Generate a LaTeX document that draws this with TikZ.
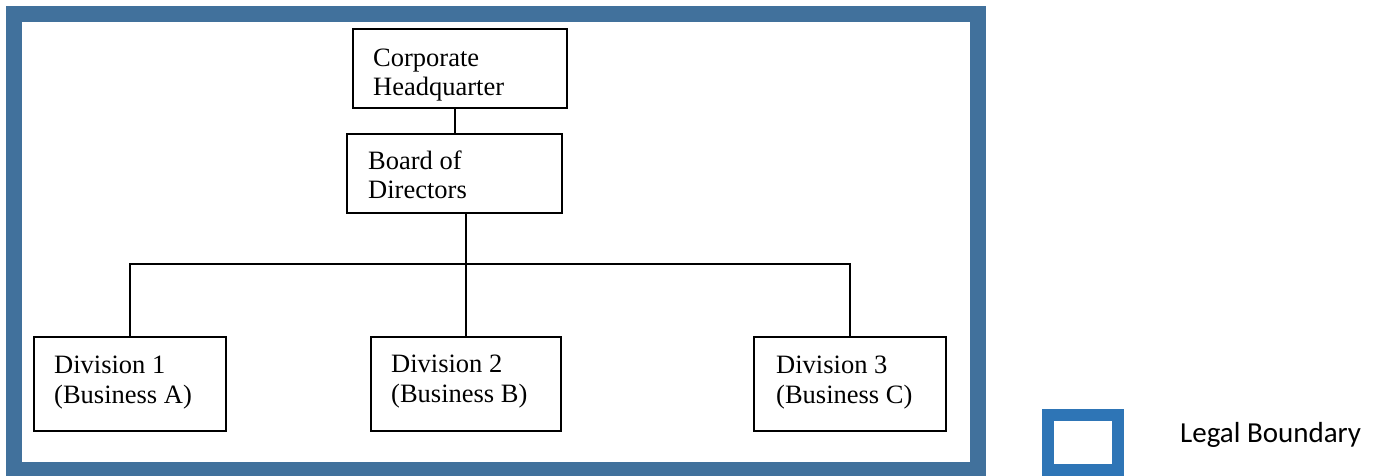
\documentclass[tikz,border=0pt]{standalone}
\usepackage{fontspec}
\setmainfont{Liberation Serif}
\newfontfamily\legendfont{Carlito}
\definecolor{framec}{HTML}{41719C}
\definecolor{legendc}{HTML}{2E75B6}
\begin{document}
\begin{tikzpicture}[x=1pt,y=-1pt,
  box/.style={draw=black,line width=1.8pt,fill=white,inner sep=0pt},
  txt/.style={inner sep=0pt,anchor=base west,font=\fontsize{26.5}{30}\selectfont},
  conn/.style={draw=black,line width=1.8pt}]
\useasboundingbox (0,0) rectangle (1383,475);
\clip (0,0) rectangle (1383,475);
% legal boundary frame
\draw[framec,line width=16pt] (14,14) rectangle (978,470);
% boxes
\node[box,minimum width=214pt,minimum height=79pt] (ch) at (460,68.5) {};
\node[box,minimum width=215pt,minimum height=79pt] (bod) at (454.5,173.5) {};
\node[box,minimum width=192pt,minimum height=94pt] (d1) at (130,384) {};
\node[box,minimum width=190pt,minimum height=94pt] (d2) at (466,384) {};
\node[box,minimum width=192pt,minimum height=94pt] (d3) at (850,384) {};
% texts
\node[txt] (ch1) at (373,66) {Corporate};
\node[txt] (ch2) at (373,95) {Headquarter};
\node[txt] (bod1) at (368,169) {Board of};
\node[txt] (bod2) at (368,198) {Directors};
\node[txt] (d1a) at (54,373) {Division 1};
\node[txt] (d1b) at (54,403) {(Business A)};
\node[txt] (d2a) at (391,372) {Division 2};
\node[txt] (d2b) at (391,402) {(Business B)};
\node[txt] (d3a) at (776,373) {Division 3};
\node[txt] (d3b) at (776,403) {(Business C)};
% connectors
\coordinate (bus) at (466,264);
\draw[conn] ([xshift=-5pt]ch.south) -- ([xshift=-5pt]ch.south |- bod.north);
\draw[conn] (bus |- bod.south) -- (bus);
\draw[conn] (d1.north) |- (bus) -| (d3.north);
\draw[conn] (d2.north) -- (d2.north |- bus);
% legend
\node[draw=legendc,line width=12pt,minimum width=70pt,minimum height=55pt,inner sep=0pt] (leg) at (1083,442.5) {};
\node[inner sep=0pt,anchor=base west,font=\legendfont\fontsize{29}{34}\selectfont] (legt) at (1180,442) {Legal Boundary};
\end{tikzpicture}
\end{document}
